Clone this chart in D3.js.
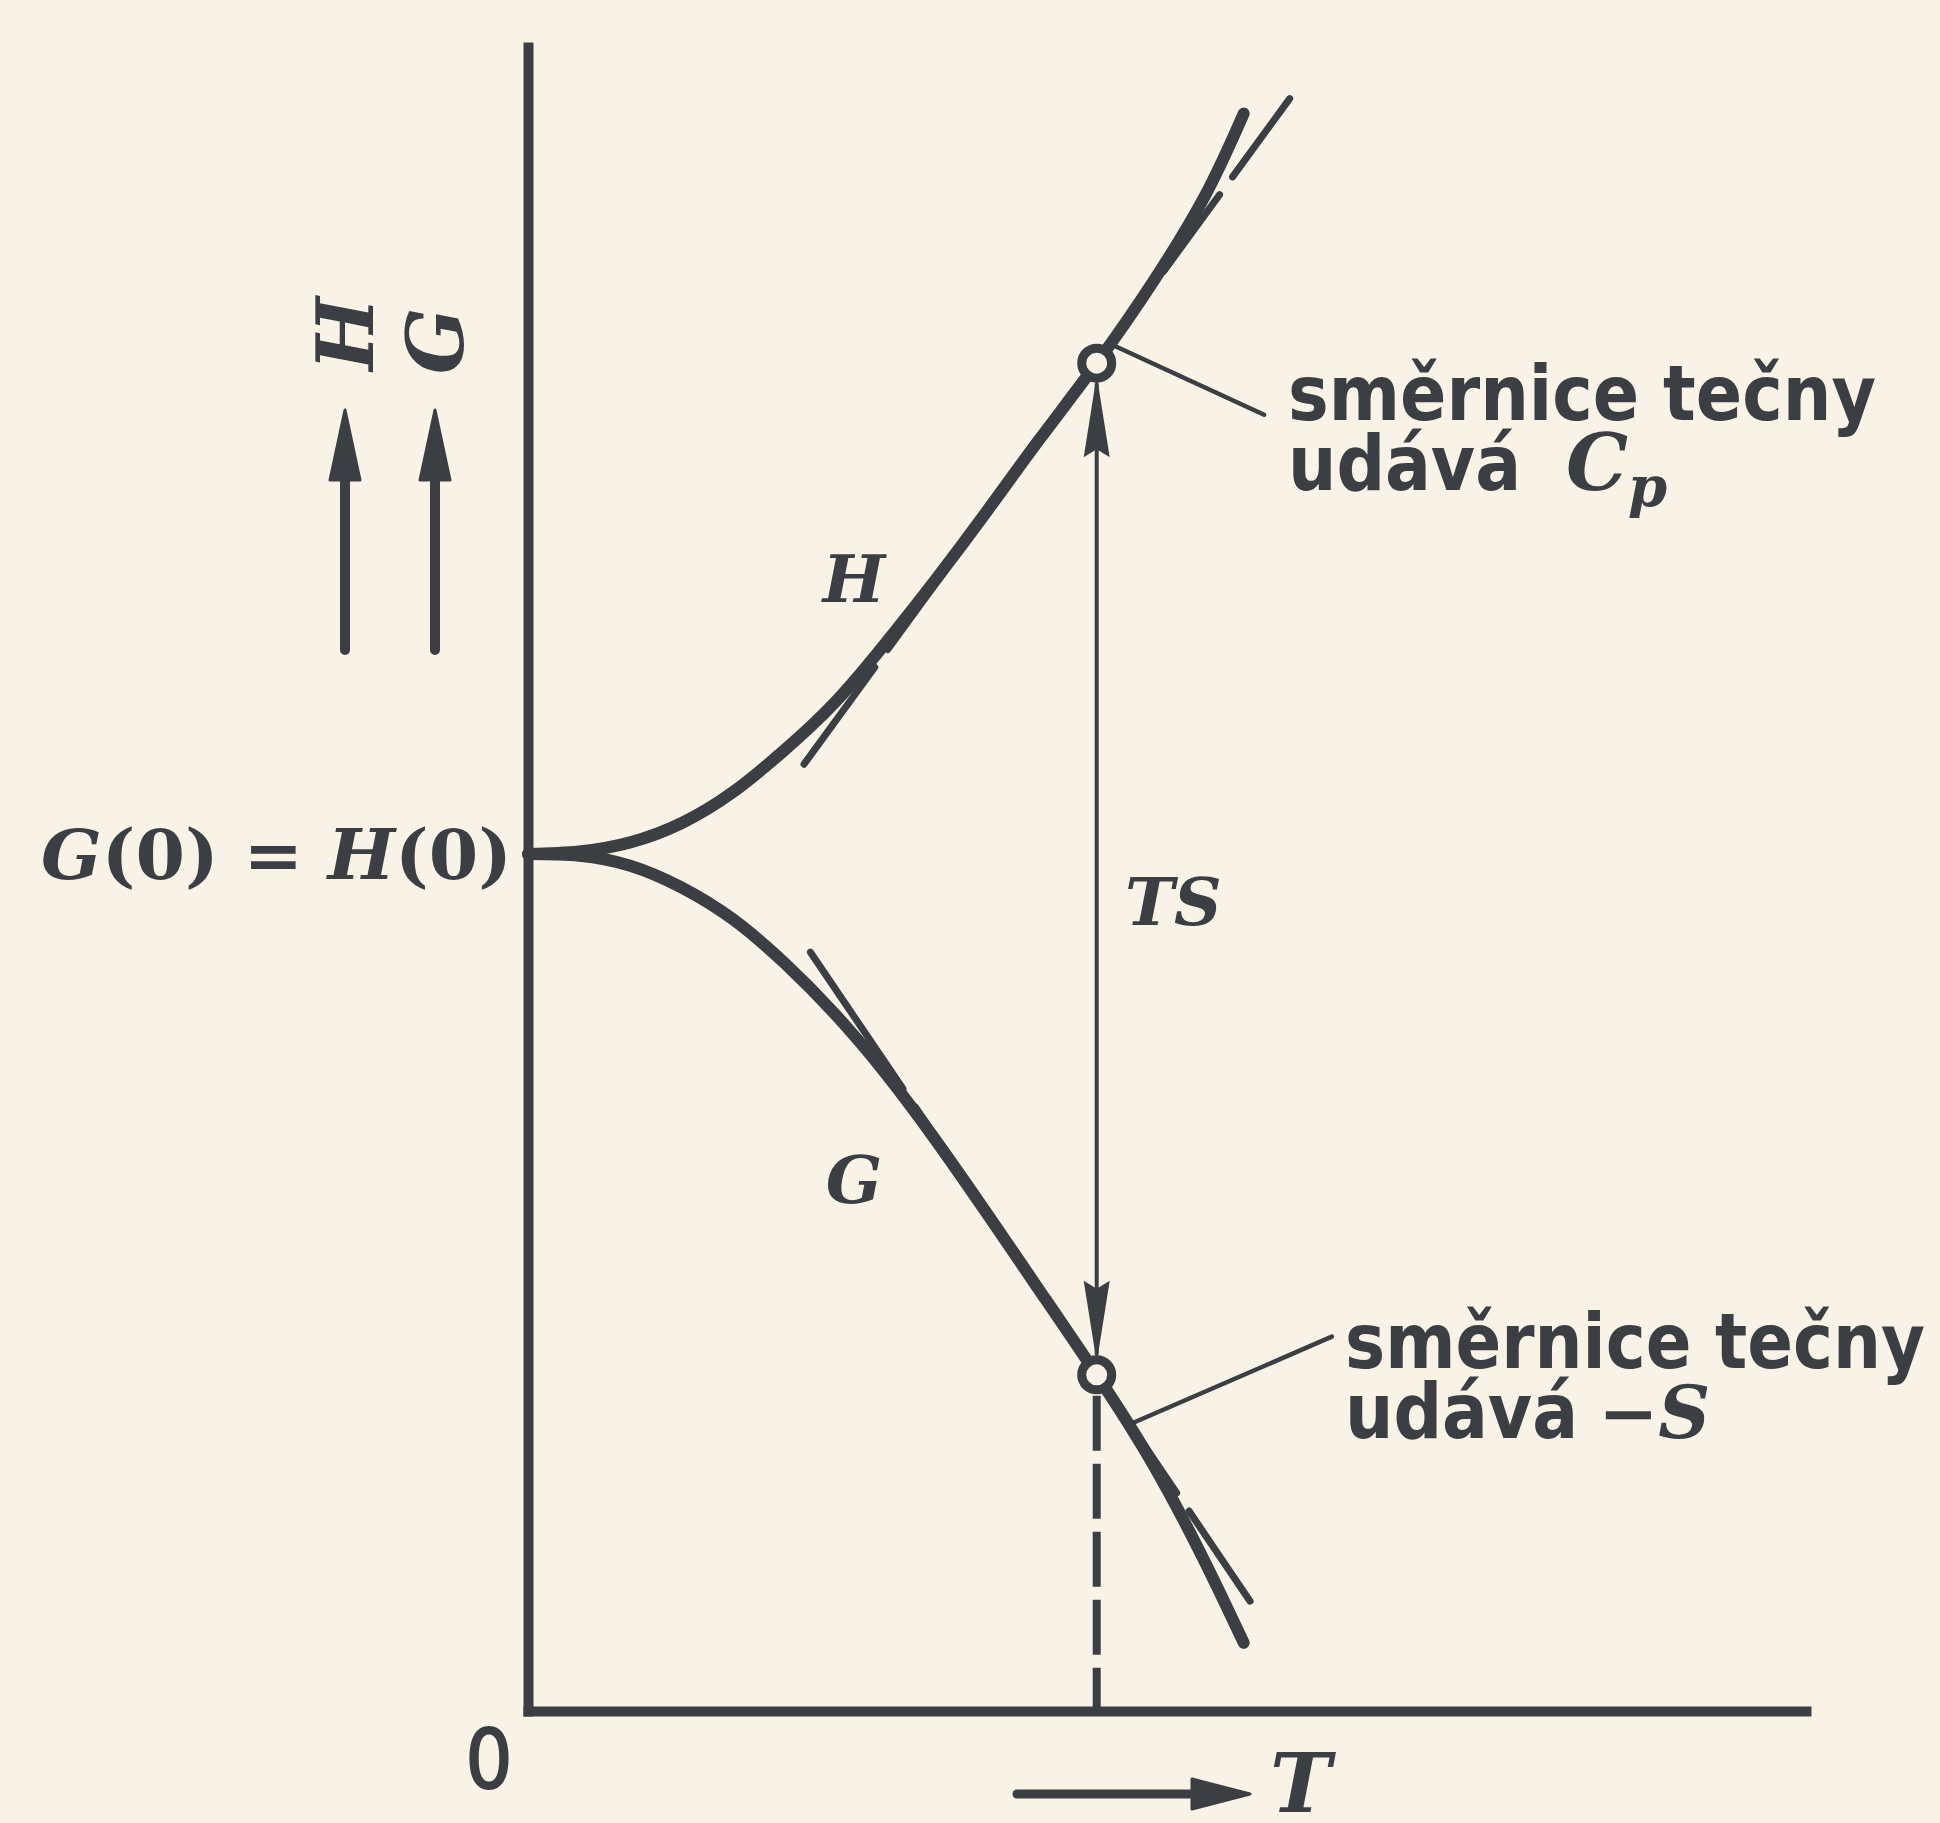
<!DOCTYPE html>
<html>
<head>
<meta charset="utf-8">
<script src="https://cdn.jsdelivr.net/npm/d3@7/dist/d3.min.js"></script>
<style>
html,body{margin:0;padding:0;background:#f8f3e6;}
svg{display:block;}
</style>
</head>
<body>
<script>
// ---------- data (arbitrary units: T horizontal, value vertical) ----------
const tDomain = [0, 10];
const vDomain = [0, 10];
const g0 = 5.15;                       // G(0) = H(0)
const hT = [0, 0.4, 0.8, 1.2, 1.6, 2.0, 2.4, 2.8, 3.2, 3.6, 4.0, 4.45, 4.9, 5.3, 5.6];
const hV = [g0, 5.165, 5.22, 5.335, 5.52, 5.77, 6.06, 6.42, 6.81, 7.22, 7.64, 8.10, 8.60, 9.11, 9.60];
const gT = [0, 0.4, 0.8, 1.2, 1.6, 2.0, 2.4, 2.8, 3.2, 3.6, 4.0, 4.45, 4.9, 5.3, 5.6];
const gV = [g0, 5.14, 5.08, 4.95, 4.76, 4.50, 4.19, 3.83, 3.42, 2.98, 2.53, 2.02, 1.47, 0.89, 0.41];
const markT = [4.45, 4.45];            // temperature of the marked state
const markV = [8.10, 2.02];            // H(T), G(T)
const tanHT = [2.16, 5.96], tanHV = [5.69, 9.69];   // tangent to H (slope Cp)
const tanGT = [2.21, 5.65], tanGV = [4.56, 0.66];   // tangent to G (slope -S)
const leaderHT = [4.60, 5.76], leaderHV = [8.20, 7.79];
const leaderGT = [4.70, 6.29], leaderGV = [1.72, 2.25];
const curveLabels = ["H", "G", "TS"];
const curveLabelT = [2.55, 2.55, 5.05];
const curveLabelV = [6.80, 3.19, 4.86];
const noteLine1 = ["směrnice tečny", "směrnice tečny"];
const noteLine2 = ["udává", "udává"];
const noteSym = ["C", "−S"];
const originLabel = "0";
const startLabel = ["G", "(0) = ", "H", "(0)"];
const axisNames = ["H", "G", "T"];

// ---------- drawing ----------
const W = 1940, Hh = 1823;
const ink = "#3b3e42", paper = "#f8f3e6";
const svg = d3.select("body").append("svg").attr("width", W).attr("height", Hh);
svg.append("rect").attr("width", W).attr("height", Hh).attr("fill", paper);

const x = d3.scaleLinear().domain(tDomain).range([528, 1806]);
const y = d3.scaleLinear().domain(vDomain).range([1711, 47]);

const serif = "'DejaVu Serif', serif";
const cond = "'DejaVu Sans Condensed', 'DejaVu Sans', sans-serif";

// axes
const gx = svg.append("g").attr("transform", `translate(0,${y(0)})`)
  .call(d3.axisBottom(x).tickValues([]).tickSizeOuter(0));
const gy = svg.append("g").attr("transform", `translate(${x(0)},0)`)
  .call(d3.axisLeft(y).tickValues([]).tickSizeOuter(0));
[gx, gy].forEach(g => g.select(".domain").attr("stroke", ink).attr("stroke-width", 10)
  .attr("stroke-linecap", "square").attr("fill", "none"));

const line = d3.line().x(d => x(d[0])).y(d => y(d[1])).curve(d3.curveNatural);
const straight = d3.line().x(d => x(d[0])).y(d => y(d[1]));

// tangents (dashed)
svg.append("path").attr("d", straight(d3.zip(tanHT, tanHV)))
  .attr("stroke", ink).attr("stroke-width", 7).attr("fill", "none").attr("stroke-linecap", "round")
  .attr("stroke-dasharray", "120 22 95 22 95 22 95 22 95 22 95 22");
svg.append("path").attr("d", straight(d3.zip(tanGT, tanGV)))
  .attr("stroke", ink).attr("stroke-width", 7).attr("fill", "none").attr("stroke-linecap", "round")
  .attr("stroke-dasharray", "165 22 100 22 100 22 100 22 100 22");

// leaders
svg.append("path").attr("d", straight(d3.zip(leaderHT, leaderHV)))
  .attr("stroke", ink).attr("stroke-width", 4.5).attr("fill", "none").attr("stroke-linecap", "round");
svg.append("path").attr("d", straight(d3.zip(leaderGT, leaderGV)))
  .attr("stroke", ink).attr("stroke-width", 4.5).attr("fill", "none").attr("stroke-linecap", "round");

// curves
svg.append("path").attr("d", line(d3.zip(hT, hV)))
  .attr("stroke", ink).attr("stroke-width", 12).attr("fill", "none").attr("stroke-linecap", "round");
svg.append("path").attr("d", line(d3.zip(gT, gV)))
  .attr("stroke", ink).attr("stroke-width", 12).attr("fill", "none").attr("stroke-linecap", "round");

// vertical dashed line from G point to the axis
const xm = x(markT[0]);
const ringR = 15;
svg.append("line").attr("x1", xm).attr("x2", xm).attr("y1", y(markV[1]) + ringR + 6).attr("y2", y(0))
  .attr("stroke", ink).attr("stroke-width", 8).attr("stroke-dasharray", "55 13");

// TS double arrow
const yTop = y(markV[0]), yBot = y(markV[1]);
svg.append("line").attr("x1", xm).attr("x2", xm).attr("y1", yTop + 20).attr("y2", yBot - 20)
  .attr("stroke", ink).attr("stroke-width", 4);
const ahL = 82, ahW = 13;
svg.append("path").attr("fill", ink)
  .attr("d", `M${xm},${yTop + 12}L${xm - ahW},${yTop + 12 + ahL}L${xm},${yTop + 12 + ahL - 8}L${xm + ahW},${yTop + 12 + ahL}Z`);
svg.append("path").attr("fill", ink)
  .attr("d", `M${xm},${yBot - 12}L${xm - ahW},${yBot - 12 - ahL}L${xm},${yBot - 12 - ahL + 8}L${xm + ahW},${yBot - 12 - ahL}Z`);

// ring markers
svg.selectAll("circle.mark").data(d3.zip(markT, markV)).join("circle").attr("class", "mark")
  .attr("cx", d => x(d[0])).attr("cy", d => y(d[1])).attr("r", ringR)
  .attr("fill", paper).attr("stroke", ink).attr("stroke-width", 9);

// curve labels
svg.selectAll("text.clab").data(curveLabels).join("text").attr("class", "clab")
  .attr("x", (d, i) => x(curveLabelT[i])).attr("y", (d, i) => y(curveLabelV[i]))
  .attr("text-anchor", "middle").attr("dominant-baseline", "central")
  .attr("font-family", serif).attr("font-style", "italic").attr("font-weight", "bold")
  .attr("font-size", 66).attr("fill", ink).text(d => d);

// notes
const noteX = [1288, 1345];
const noteY = [420, 1368];
const lineGap = 70;
[0, 1].forEach(i => {
  svg.append("text").attr("x", noteX[i]).attr("y", noteY[i])
    .attr("font-family", cond).attr("font-stretch", "condensed").attr("font-weight", "bold").attr("font-size", 76)
    .attr("textLength", i === 0 ? 588 : 580).attr("lengthAdjust", "spacingAndGlyphs")
    .attr("fill", ink).text(noteLine1[i]);
  svg.append("text").attr("x", noteX[i]).attr("y", noteY[i] + lineGap)
    .attr("font-family", cond).attr("font-stretch", "condensed").attr("font-weight", "bold").attr("font-size", 76)
    .attr("textLength", 233).attr("lengthAdjust", "spacingAndGlyphs")
    .attr("fill", ink).text(noteLine2[i]);
});
// C_p
const cp = svg.append("text").attr("x", 1566).attr("y", noteY[0] + lineGap)
  .attr("font-family", serif).attr("font-style", "italic").attr("font-weight", "bold")
  .attr("font-size", 78).attr("fill", ink);
cp.append("tspan").text(noteSym[0]);
cp.append("tspan").attr("dy", 16).attr("font-size", 56).text("p");
// -S
svg.append("text").attr("x", 1598).attr("y", noteY[1] + lineGap)
  .attr("font-family", serif).attr("font-style", "italic").attr("font-weight", "bold")
  .attr("font-size", 72).attr("fill", ink).text(noteSym[1]);

// G(0) = H(0)
const st = svg.append("text").attr("x", 41).attr("y", y(g0) + 25)
  .attr("font-family", serif).attr("font-weight", "bold").attr("font-size", 70)
  .attr("textLength", 471).attr("lengthAdjust", "spacingAndGlyphs").attr("fill", ink);
startLabel.forEach((s, i) => st.append("tspan").attr("font-style", i % 2 === 0 ? "italic" : "normal").text(s));

// origin 0
svg.append("text").attr("x", x(0) - 39).attr("y", y(0) + 77).attr("text-anchor", "middle")
  .attr("font-family", cond).attr("font-stretch", "condensed").attr("font-size", 82)
  .attr("stroke", ink).attr("stroke-width", 2)
  .attr("fill", ink).text(originLabel);

// axis direction arrows and names
const arrowUp = (cx) => {
  svg.append("line").attr("x1", cx).attr("x2", cx).attr("y1", 650).attr("y2", 450)
    .attr("stroke", ink).attr("stroke-width", 10).attr("stroke-linecap", "round");
  svg.append("path").attr("fill", ink)
    .attr("d", `M${cx},410L${cx - 15},480L${cx + 15},480Z`).attr("stroke", ink).attr("stroke-width", 3).attr("stroke-linejoin", "round");
};
arrowUp(345); arrowUp(435);
[[345, 334], [435, 341]].forEach((p, i) => {
  svg.append("text").attr("transform", `translate(${p[0]},${p[1]}) rotate(-90)`)
    .attr("text-anchor", "middle").attr("dominant-baseline", "central")
    .attr("font-family", serif).attr("font-style", "italic").attr("font-weight", "bold")
    .attr("font-size", 78).attr("fill", ink).text(axisNames[i]);
});
// T arrow
svg.append("line").attr("x1", 1017).attr("x2", 1205).attr("y1", 1794).attr("y2", 1794)
  .attr("stroke", ink).attr("stroke-width", 9).attr("stroke-linecap", "round");
svg.append("path").attr("fill", ink).attr("stroke", ink).attr("stroke-width", 3).attr("stroke-linejoin", "round")
  .attr("d", "M1250,1794L1192,1779L1192,1809Z");
svg.append("text").attr("x", 1270).attr("y", 1812)
  .attr("font-family", serif).attr("font-style", "italic").attr("font-weight", "bold")
  .attr("font-size", 82).attr("fill", ink).text(axisNames[2]);
</script>
</body>
</html>
